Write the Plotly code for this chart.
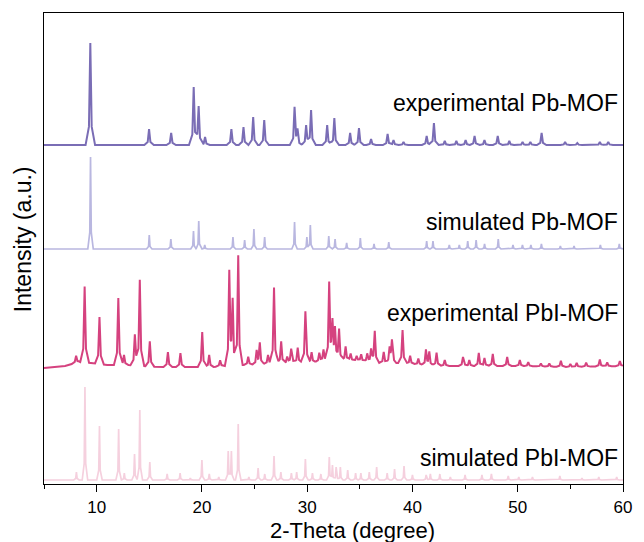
import numpy as np
import plotly.graph_objects as go

# ---------------- data (2-theta in degree, intensity in arbitrary units) ----------------
# experimental Pb-MOF
exp_pb_pos = [9.40, 14.98, 17.08, 19.22, 19.69, 20.30, 22.80, 23.95, 24.87, 25.92, 28.80, 29.08,
              29.90, 30.37, 31.90, 32.58, 34.08, 34.92, 36.07, 37.64, 38.20, 39.15, 41.35, 42.04,
              43.07, 44.17, 45.05, 45.90, 46.84, 48.10, 49.20, 50.46, 51.20, 52.27, 54.50, 55.66,
              57.80, 58.60]
exp_pb_int = [102, 16, 12, 58, 39, 8, 16, 18, 28, 25, 37, 13,
              20, 35, 20, 27, 12, 17, 6, 11, 5, 3, 9, 22,
              4, 4, 5, 9, 5, 9, 4, 3, 3, 12, 3, 2,
              3, 3]

# simulated Pb-MOF
sim_pb_pos = [9.42, 15.00, 17.05, 19.20, 19.70, 20.27, 22.95, 24.06, 24.94, 25.96, 28.80, 29.97,
              30.30, 32.05, 32.65, 33.75, 35.05, 36.35, 37.75, 41.35, 41.95, 43.50, 44.45, 45.25,
              46.05, 46.85, 48.15, 49.55, 50.45, 51.25, 52.25, 54.05, 55.35, 57.85, 59.65]
sim_pb_int = [92, 14, 10, 18, 28, 4, 12, 9, 20, 12, 27, 12,
              24, 13, 10, 6, 11, 5, 7, 8, 8, 4, 4, 8,
              9, 5, 10, 4, 4, 4, 5, 3, 3, 4, 5]

# experimental PbI-MOF
exp_pbi_pos = [8.05, 8.86, 10.27, 12.06, 12.60, 13.63, 14.10, 15.05, 16.77, 17.96, 20.03, 20.69,
               21.73, 22.60, 22.92, 23.45, 24.40, 25.20, 25.50, 26.28, 26.85, 27.53, 28.10, 28.48,
               29.10, 29.83, 30.42, 31.15, 31.55, 32.09, 32.40, 32.64, 33.03, 33.65, 34.13, 34.70,
               35.13, 35.70, 36.07, 36.42, 37.27, 37.83, 38.05, 39.06, 39.78, 40.56, 41.28, 41.60,
               42.29, 43.07, 44.80, 45.40, 46.30, 46.84, 47.63, 49.00, 50.20, 51.00, 52.20, 53.00,
               54.10, 55.00, 55.60, 56.50, 57.80, 58.50, 59.70]
exp_pbi_int = [7, 76, 47, 67, 10, 31, 86, 25, 15, 14, 35, 12,
               6, 92, 62, 110, 8, 13, 21, 9, 76, 22, 6, 14,
               15, 51, 10, 9, 12, 77, 34, 30, 31, 14, 7, 5,
               7, 8, 12, 31, 11, 14, 22, 33, 8, 6, 15, 13,
               13, 6, 9, 6, 13, 8, 12, 9, 6, 4, 3, 3,
               6, 3, 4, 4, 7, 4, 5]
exp_pbi_bg_x = [5, 7, 8.3, 9.5, 11, 13, 16, 19, 21, 22, 24, 26, 28, 31, 33, 35, 37, 39, 41, 43, 45, 50, 55, 60]
exp_pbi_bg_y = [116, 118, 122, 121, 119, 119, 117, 117, 117, 118, 119, 120, 121, 122, 124, 123, 121,
                121, 119, 118, 118, 118, 117, 118]

# simulated PbI-MOF
sim_pbi_pos = [8.08, 8.89, 10.27, 12.09, 12.63, 13.60, 14.10, 15.05, 16.70, 17.93, 18.90, 20.00,
               20.70, 21.60, 22.50, 22.80, 23.45, 24.46, 25.34, 25.97, 26.85, 27.50, 28.50, 29.00,
               29.83, 30.50, 31.30, 32.10, 32.40, 32.75, 33.15, 33.85, 34.60, 35.10, 35.90, 36.60,
               37.60, 38.30, 39.20, 40.00, 41.30, 41.70, 42.60, 43.60, 45.00, 46.60, 47.50, 49.10,
               50.10, 51.40, 54.00, 56.10, 57.70, 59.40]
sim_pbi_int = [8, 93, 54, 51, 7, 26, 70, 18, 6, 7, 2, 20,
               6, 3, 29, 29, 56, 3, 12, 6, 24, 8, 7, 8,
               21, 7, 6, 23, 15, 13, 13, 10, 7, 7, 8, 13,
               7, 11, 14, 5, 5, 6, 6, 3, 5, 5, 6, 4,
               3, 3, 4, 2, 3, 3]

# vertical offsets of the stacked patterns
offset_exp_pb = 339
offset_sim_pb = 235
offset_sim_pbi = 4

labels = ["experimental Pb-MOF", "simulated Pb-MOF", "experimental PbI-MOF", "simulated PbI-MOF"]
label_y = [381, 262, 171, 26]
colors = ["#7a6db5", "#b9b7e0", "#d5427f", "#f5d0de"]
x_ticks = [10, 20, 30, 40, 50, 60]


def pattern(pos, ints, wm, wf, base=0.0, bg_x=None, bg_y=None):
    """Piecewise-linear peak profiles built from the read peak list."""
    xs = [5.0, 60.0]
    for p in pos:
        xs += [p - wf, p - wm, p, p + wm, p + wf]
    if bg_x is not None:
        xs += list(bg_x)
    xs = np.unique(np.clip(np.array(xs, dtype=float), 5, 60))
    ys = np.zeros_like(xs)
    for p, h in zip(pos, ints):
        ys += np.interp(xs, [p - wf, p - wm, p, p + wm, p + wf], [0, 0.18 * h, h, 0.18 * h, 0])
    if bg_x is not None:
        ys += np.interp(xs, bg_x, bg_y)
    else:
        ys += base
    return xs, ys


traces = [
    pattern(exp_pb_pos, exp_pb_int, 0.13, 0.45, base=offset_exp_pb),
    pattern(sim_pb_pos, sim_pb_int, 0.07, 0.26, base=offset_sim_pb),
    pattern(exp_pbi_pos, exp_pbi_int, 0.13, 0.42, bg_x=exp_pbi_bg_x, bg_y=exp_pbi_bg_y),
    pattern(sim_pbi_pos, sim_pbi_int, 0.07, 0.26, base=offset_sim_pbi),
]
widths = [2.0, 1.7, 2.0, 1.7]

FONT = "Liberation Sans, Arial, Helvetica, sans-serif"

fig = go.Figure()
for (xs, ys), c, w, name in zip(traces, colors, widths, labels):
    fig.add_trace(go.Scatter(x=xs, y=ys, mode="lines", line=dict(color=c, width=w),
                             name=name, showlegend=False, hoverinfo="skip"))

for txt, yy in zip(labels, label_y):
    fig.add_annotation(x=59.75, y=yy, xref="x", yref="y", text=txt, showarrow=False,
                       xanchor="right", yanchor="middle",
                       font=dict(family=FONT, size=23, color="black"))

# axis titles
fig.add_annotation(x=0.533, y=-0.099, xref="paper", yref="paper", text="2-Theta (degree)",
                   showarrow=False, xanchor="center", yanchor="middle",
                   font=dict(family=FONT, size=22, color="black"))
fig.add_annotation(x=-0.036, y=0.52, xref="paper", yref="paper", text="Intensity (a.u.)",
                   showarrow=False, textangle=-90, xanchor="center", yanchor="middle",
                   font=dict(family=FONT, size=23, color="black"))

fig.update_layout(
    width=644, height=542,
    margin=dict(l=44, r=16, t=13, b=58),
    paper_bgcolor="white", plot_bgcolor="white",
    font=dict(family=FONT, color="black"),
    showlegend=False,
)
fig.update_xaxes(
    range=[5, 60], tickmode="array", tickvals=x_ticks, ticktext=[str(v) for v in x_ticks],
    ticks="outside", ticklen=7, tickwidth=1.3, tickcolor="black",
    tickfont=dict(family=FONT, size=17, color="black"),
    showline=True, linecolor="black", linewidth=1.3, mirror=True,
    showgrid=False, zeroline=False, ticklabelstandoff=0,
    minor=dict(tickmode="linear", tick0=5, dtick=10, ticks="outside", ticklen=4,
               tickwidth=1.3, tickcolor="black", showgrid=False),
)
fig.update_yaxes(
    range=[0, 471], showticklabels=False, ticks="",
    showline=True, linecolor="black", linewidth=1.3, mirror=True,
    showgrid=False, zeroline=False,
)

fig.write_html("out.html")
